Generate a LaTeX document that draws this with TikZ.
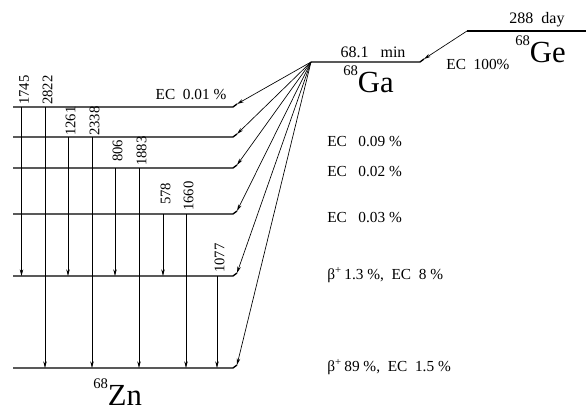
\documentclass[tikz,border=0pt]{standalone}
\usepackage{fontspec}
\setmainfont{Liberation Serif}
\usetikzlibrary{arrows.meta}
\begin{document}
\begin{tikzpicture}[x=0.75pt,y=-0.75pt,
 level/.style={line width=1pt},
 trans/.style={line width=0.45pt,-{Stealth[length=5pt,width=2.6pt]}},
 feed/.style={line width=0.5pt,-{Stealth[length=5pt,width=2.6pt]}},
 elabel/.style={rotate=90,anchor=west,inner sep=0pt,font=\fontsize{11}{11}\selectfont},
 plabel/.style={anchor=west,inner sep=0pt,font=\fontsize{11.5}{12}\selectfont},
 big/.style={anchor=base west,inner sep=0pt},
]
\useasboundingbox (0,0) rectangle (586,414);

% Zn levels
\foreach \n/\y in {1/107,2/137,3/168,4/214,5/276,6/368}{
  \coordinate (a\n) at (13,\y);
  \coordinate (b\n) at (233,\y);
  \coordinate (c\n) at (237,\y-3);
  \draw[level] (a\n) -- (b\n) -- (c\n);
}

% Ga and Ge levels
\coordinate (gaL) at (311,62);
\coordinate (gaR) at (420,62);
\coordinate (gaK) at (424,59);
\coordinate (geL) at (467,31);
\coordinate (geR) at (586,31);
\draw[level] (gaL) -- (gaR) -- (gaK);
\draw[level] (geR) -- (geL);
\draw[feed] (geL) -- (gaK);

% feeding from Ga
\foreach \n in {1,...,6}{\draw[feed] (gaL) -- (c\n);}

% gamma transitions
\foreach \x/\f/\t/\lab/\lb in {21.5/1/5/1745/105, 45/1/6/2822/105, 68/2/5/1261/136, 92/2/6/2338/136,
  115/3/5/806/162, 139/3/6/1883/166, 163/4/5/578/205, 186/4/6/1660/211, 217/5/6/1077/273}{
  \coordinate (t\lab) at (\x,0 |- a\f);
  \coordinate (e\lab) at (\x,0 |- a\t);
  \draw[trans] (t\lab) -- (e\lab);
  \node[elabel] (l\lab) at (\x+2.5,\lb) {\lab};
}
\draw[line width=0.7pt] (t1261) -- ([yshift=2pt]e1261);

% texts
\node[font=\fontsize{11.5}{12}\selectfont,inner sep=0pt] (ec1) at (191,95) {EC\ \ 0.01 \%};
\node[font=\fontsize{12}{12}\selectfont,inner sep=0pt] (hga) at (373,52) {68.1\ \ \ min};
\node[font=\fontsize{12}{12}\selectfont,inner sep=0pt] (hge) at (537,20) {288\ \ day};
\node[font=\fontsize{11.5}{12}\selectfont,inner sep=0pt] (ec100) at (478,65) {EC\ \ 100\%};
\node[big] (ga) at (343,92) {\raisebox{12.75pt}{\fontsize{11}{11}\selectfont 68}\fontsize{23}{23}\selectfont Ga};
\node[big] (ge) at (515,62) {\raisebox{12.75pt}{\fontsize{11}{11}\selectfont 68}\fontsize{23}{23}\selectfont Ge};
\node[big] (zn) at (93,405) {\raisebox{12.75pt}{\fontsize{11}{11}\selectfont 68}\fontsize{23}{23}\selectfont Zn};

\node[plabel] (p2) at (327,142) {EC\ \ \ 0.09 \%};
\node[plabel] (p3) at (327,172) {EC\ \ \ 0.02 \%};
\node[plabel] (p4) at (327,218) {EC\ \ \ 0.03 \%};
\node[plabel] (p5) at (327,275) {β\textsuperscript{+}\,1.3 \%,\ \ EC\ \ 8 \%};
\node[plabel] (p6) at (327,367) {β\textsuperscript{+}\,89 \%,\ \ EC\ \ 1.5 \%};
\end{tikzpicture}
\end{document}
